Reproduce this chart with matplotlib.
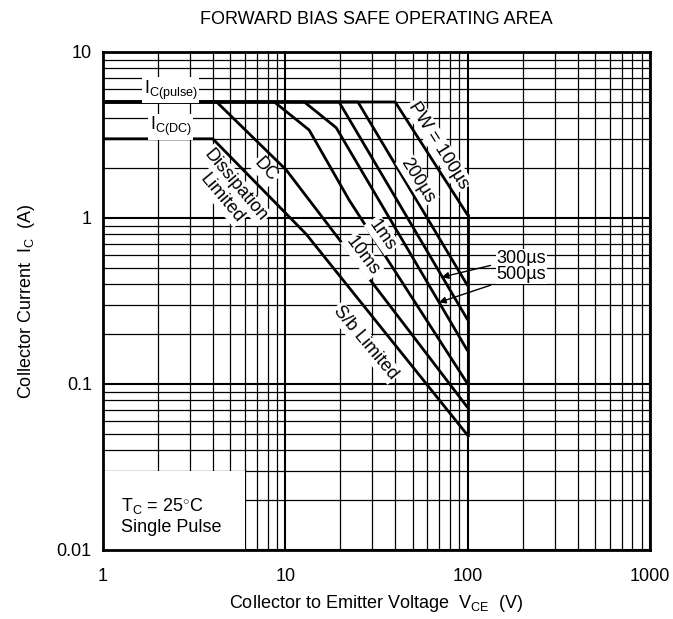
import numpy as np
import matplotlib
matplotlib.use("Agg")
import matplotlib.pyplot as plt
from matplotlib.patches import Rectangle

plt.rcParams['font.family'] = ['Liberation Sans', 'DejaVu Sans']
plt.rcParams['mathtext.fontset'] = 'custom'
plt.rcParams['mathtext.rm'] = 'Liberation Sans'

# current limits (A)
ic_pulse = 5.0
ic_dc = 3.0

# SOA curves: (label, voltages V, currents A)
curve_names = ["100us", "200us", "300us", "500us", "1ms", "10ms", "DC"]
curve_v = [
    [1, 40, 100],
    [1, 25, 100],
    [1, 19.7, 100],
    [1, 12.7, 19, 100],
    [1, 8.7, 13.5, 22.4, 100],
    [1, 4.2, 10.1, 100],
    [1, 4.0, 13.0, 100],
]
curve_i = [
    [5, 5, 1.04],
    [5, 5, 0.39],
    [5, 5, 0.243],
    [5, 5, 3.5, 0.158],
    [5, 5, 3.39, 1.28, 0.10],
    [5, 5, 1.95, 0.072],
    [3, 3, 0.80, 0.049],
]
v_max = 100

fig = plt.figure(figsize=(6.73, 6.19), dpi=100)
ax = fig.add_axes([0.153, 0.1115, 0.813, 0.8045])
ax.set_xscale("log")
ax.set_yscale("log")
ax.set_xlim(1, 1000)
ax.set_ylim(0.01, 10)

# log grid drawn by matplotlib
ax.grid(which="major", color="black", linewidth=1.5, zorder=0)
ax.grid(which="minor", color="black", linewidth=0.9, zorder=0)
ax.set_axisbelow(True)
ax.tick_params(which="both", length=0, labelsize=13, pad=8)
for s in ax.spines.values():
    s.set_linewidth(2.0)

ax.set_xticks([1, 10, 100, 1000])
ax.set_xticklabels(["1", "10", "100", "1000"])
ax.set_yticks([0.01, 0.1, 1, 10])
ax.set_yticklabels(["0.01", "0.1", "1", "10"])
ax.tick_params(axis="x", pad=13)

for name, v, i in zip(curve_names, curve_v, curve_i):
    ax.plot(v, i, color="black", linewidth=2.0, zorder=3, solid_capstyle="butt")
# vertical voltage limit
ax.plot([v_max, v_max], [curve_i[-1][-1], curve_i[0][-1]], color="black",
        linewidth=2.0, zorder=3)

# white box behind the condition note
ax.add_patch(Rectangle((1, 0.01), 5.0, 0.02, facecolor="white", edgecolor="none", zorder=1))

bb = dict(facecolor="white", edgecolor="none", pad=1.0)
ax.text(2.35, 5.9, r"I$_{\rm C(pulse)}$", fontsize=13, ha="center", va="center",
        bbox=bb, zorder=4)
ax.text(2.35, 3.55, r"I$_{\rm C(DC)}$", fontsize=13, ha="center", va="center",
        bbox=bb, zorder=4)

ax.text(1.25, 0.016, "T$_{\\rm C}$ = 25$^{\\circ}$C\nSingle Pulse", fontsize=13,
        ha="left", va="center", linespacing=1.25, zorder=4)

lab = dict(fontsize=13, ha="center", va="center", zorder=4, bbox=bb)
ax.text(69, 2.75, "PW = 100µs", rotation=-58, **lab)
ax.text(53, 1.69, "200µs", rotation=-58, **lab)
ax.text(34, 0.79, "1ms", rotation=-55, **lab)
ax.text(26.4, 0.59, "10ms", rotation=-53, **lab)
ax.text(27.4, 0.177, "S/b Limited", rotation=-50, **lab)
ax.text(7.8, 1.95, "DC", rotation=-48, **lab)
ax.text(5.33, 1.58, "Dissipation", rotation=-50, **lab)
ax.text(4.47, 1.32, "Limited", rotation=-50, **lab)

ax.annotate("300µs", xy=(72, 0.44), xytext=(197, 0.574), fontsize=13,
            ha="center", va="center", zorder=5,
            bbox=dict(facecolor="white", edgecolor="none", pad=0.5),
            arrowprops=dict(arrowstyle="-|>", color="black", lw=1.0,
                            shrinkA=4, shrinkB=0, mutation_scale=10))
ax.annotate("500µs", xy=(69.5, 0.31), xytext=(197, 0.454), fontsize=13,
            ha="center", va="center", zorder=5,
            bbox=dict(facecolor="white", edgecolor="none", pad=0.5),
            arrowprops=dict(arrowstyle="-|>", color="black", lw=1.0,
                            shrinkA=4, shrinkB=0, mutation_scale=10))

ax.set_title("FORWARD BIAS SAFE OPERATING AREA", fontsize=13, pad=20)
ax.set_xlabel(r"Collector to Emitter Voltage  V$_{\rm CE}$  (V)", fontsize=13, labelpad=6)
ax.set_ylabel(r"Collector Current  I$_{\rm C}$  (A)", fontsize=13, labelpad=14)

fig.savefig("out.png", dpi=100)
